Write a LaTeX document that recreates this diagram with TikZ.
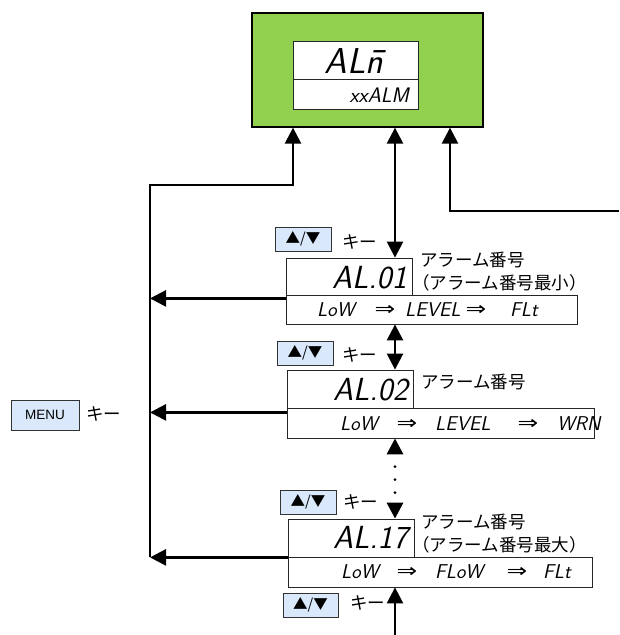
\documentclass[tikz,border=0pt]{standalone}
\usepackage{fontspec}
\usepackage{graphicx}
\usetikzlibrary{arrows.meta}
\newfontfamily\jpfont{Noto Sans CJK JP}
\newfontfamily\dvfont{DejaVu Sans}
\newfontfamily\arfont{Liberation Sans}
\definecolor{lcdgreen}{HTML}{92D050}
\definecolor{keyblue}{HTML}{DAE8FC}
\newcommand\segfont{\sffamily\slshape}
\newcommand\imp{\scalebox{1.3}[1]{⇒}}
\begin{document}
\begin{tikzpicture}[x=1pt,y=-1pt,
  line/.style={line width=2.5pt, line join=miter},
  arr/.style={line, -{Triangle[length=16pt,width=16pt]}},
  darr/.style={line, {Triangle[length=16pt,width=16pt]}-{Triangle[length=16pt,width=16pt]}},
  dotarr/.style={darr, line width=3.2pt, line cap=round,
     dash pattern=on 0pt off 13pt on 0pt off 13pt on 0pt off 26pt, dash phase=39pt},
  lcd/.style={draw=black!85, line width=0.8pt, fill=white, inner sep=0pt},
  keybox/.style={draw=black!80, line width=0.8pt, fill=keyblue, inner sep=0pt,
     minimum width=56pt, minimum height=24pt, font=\jpfont\fontsize{14.5}{14.5}\selectfont},
  jp/.style={font=\jpfont\fontsize{17.5}{17.5}\selectfont, inner sep=0pt, anchor=west},
  segbig/.style={font=\segfont\fontsize{32}{32}\selectfont, inner sep=0pt, anchor=east},
  segrow/.style={font=\segfont\fontsize{20}{20}\selectfont, inner sep=0pt, anchor=west},
  arrowtxt/.style={font=\dvfont\fontsize{19}{19}\selectfont, inner sep=0pt}
]
\useasboundingbox (0,0) rectangle (619,635);

% main green display
\node[draw=black, line width=1.3pt, fill=lcdgreen, minimum width=231pt, minimum height=114pt, inner sep=0pt] (main) at (367.5,70) {};
\node[lcd, minimum width=125pt, minimum height=30pt] (dbot) at (355.5,94) {};
\node[lcd, minimum width=125pt, minimum height=38pt] (dtop) at (355.5,60) {};
\node[font=\segfont\fontsize{36}{36}\selectfont, inner sep=0pt] (tmain) at (354,61) {AL\=n};
\node[font=\segfont\fontsize{21}{21}\selectfont, inner sep=0pt, anchor=east] (txx) at (409,95) {xxALM};

% AL.01
\node[lcd, minimum width=291pt, minimum height=29pt] (a1b) at (431.5,309.5) {};
\node[lcd, minimum width=126pt, minimum height=37pt] (a1t) at (349,276.5) {};
\node[segbig] (t1) at (407,278) {AL.01};
\node[segrow] (r1a) at (317,310) {LoW};
\node[arrowtxt] (r1b) at (385,310) {\imp};
\node[segrow] (r1c) at (405,310) {LEVEL};
\node[arrowtxt] (r1d) at (476,310) {\imp};
\node[segrow] (r1e) at (510,310) {FLt};
\node[jp] (l1a) at (420,260) {アラーム番号};
\node[jp] (l1b) at (412,283) {（アラーム番号最小）};

% AL.02
\node[lcd, minimum width=307pt, minimum height=30pt] (a2b) at (440.5,423) {};
\node[lcd, minimum width=126pt, minimum height=38pt] (a2t) at (350,389) {};
\node[segbig] (t2) at (408,390) {AL.02};
\node[segrow] (r2a) at (340,424) {LoW};
\node[arrowtxt] (r2b) at (407,424) {\imp};
\node[segrow] (r2c) at (435,424) {LEVEL};
\node[arrowtxt] (r2d) at (528,424) {\imp};
\node[segrow] (r2e) at (557,424) {WRN};
\node[jp] (l2a) at (421,382) {アラーム番号};

% AL.17
\node[lcd, minimum width=304pt, minimum height=30pt] (a3b) at (440,572) {};
\node[lcd, minimum width=126pt, minimum height=38pt] (a3t) at (351,538) {};
\node[segbig] (t3) at (408,538) {AL.17};
\node[segrow] (r3a) at (341,572) {LoW};
\node[arrowtxt] (r3b) at (407,572) {\imp};
\node[segrow] (r3c) at (435,572) {FLoW};
\node[arrowtxt] (r3d) at (517,572) {\imp};
\node[segrow] (r3e) at (543,572) {FLt};
\node[jp] (l3a) at (421,522) {アラーム番号};
\node[jp] (l3b) at (412,545) {（アラーム番号最大）};

% keys
\node[keybox] (k1) at (303,239) {▲/▼};
\node[jp] (k1t) at (342,242) {キー};
\node[keybox] (k2) at (305,353) {▲/▼};
\node[jp] (k2t) at (342,355) {キー};
\node[keybox] (k3) at (308,502) {▲/▼};
\node[jp] (k3t) at (343,502) {キー};
\node[keybox, minimum width=55pt] (k4) at (310.5,605) {▲/▼};
\node[jp] (k4t) at (350,603) {キー};
\node[draw=black!80, line width=0.8pt, fill=keyblue, inner sep=0pt, minimum width=68pt, minimum height=30pt,
      font=\arfont\fontsize{13.5}{13.5}\selectfont] (menu) at (45,415) {MENU};
\node[jp] (menut) at (86,414) {キー};

% connector helpers
\coordinate (vx) at (395,0);
\coordinate (lx) at (293,0);
\coordinate (rx) at (450,0);
\coordinate (bustop) at (150,185);
\coordinate (rin) at (619,211);
\coordinate (bot) at (395,635);

% vertical connectors
\draw[darr] (main.south -| vx) -- (a1t.north -| vx);
\draw[darr] (a1b.south -| vx) -- (a2t.north -| vx);
\draw[dotarr] (a2b.south -| vx) -- (a3t.north -| vx);
\draw[arr] (bot) -- (a3b.south -| vx);
\draw[arr] (rin) -| (main.south -| rx);

% MENU bus
\draw[arr] (a3t.south west -| bustop) -- (bustop) -| (main.south -| lx);
\draw[arr] ([yshift=-3pt]a1t.south west) -- ([yshift=-3pt]a1t.south west -| bustop);
\draw[arr] ([yshift=-4pt]a2t.south west) -- ([yshift=-4pt]a2t.south west -| bustop);
\draw[arr] (a3t.south west) -- (a3t.south west -| bustop);
\end{tikzpicture}
\end{document}
